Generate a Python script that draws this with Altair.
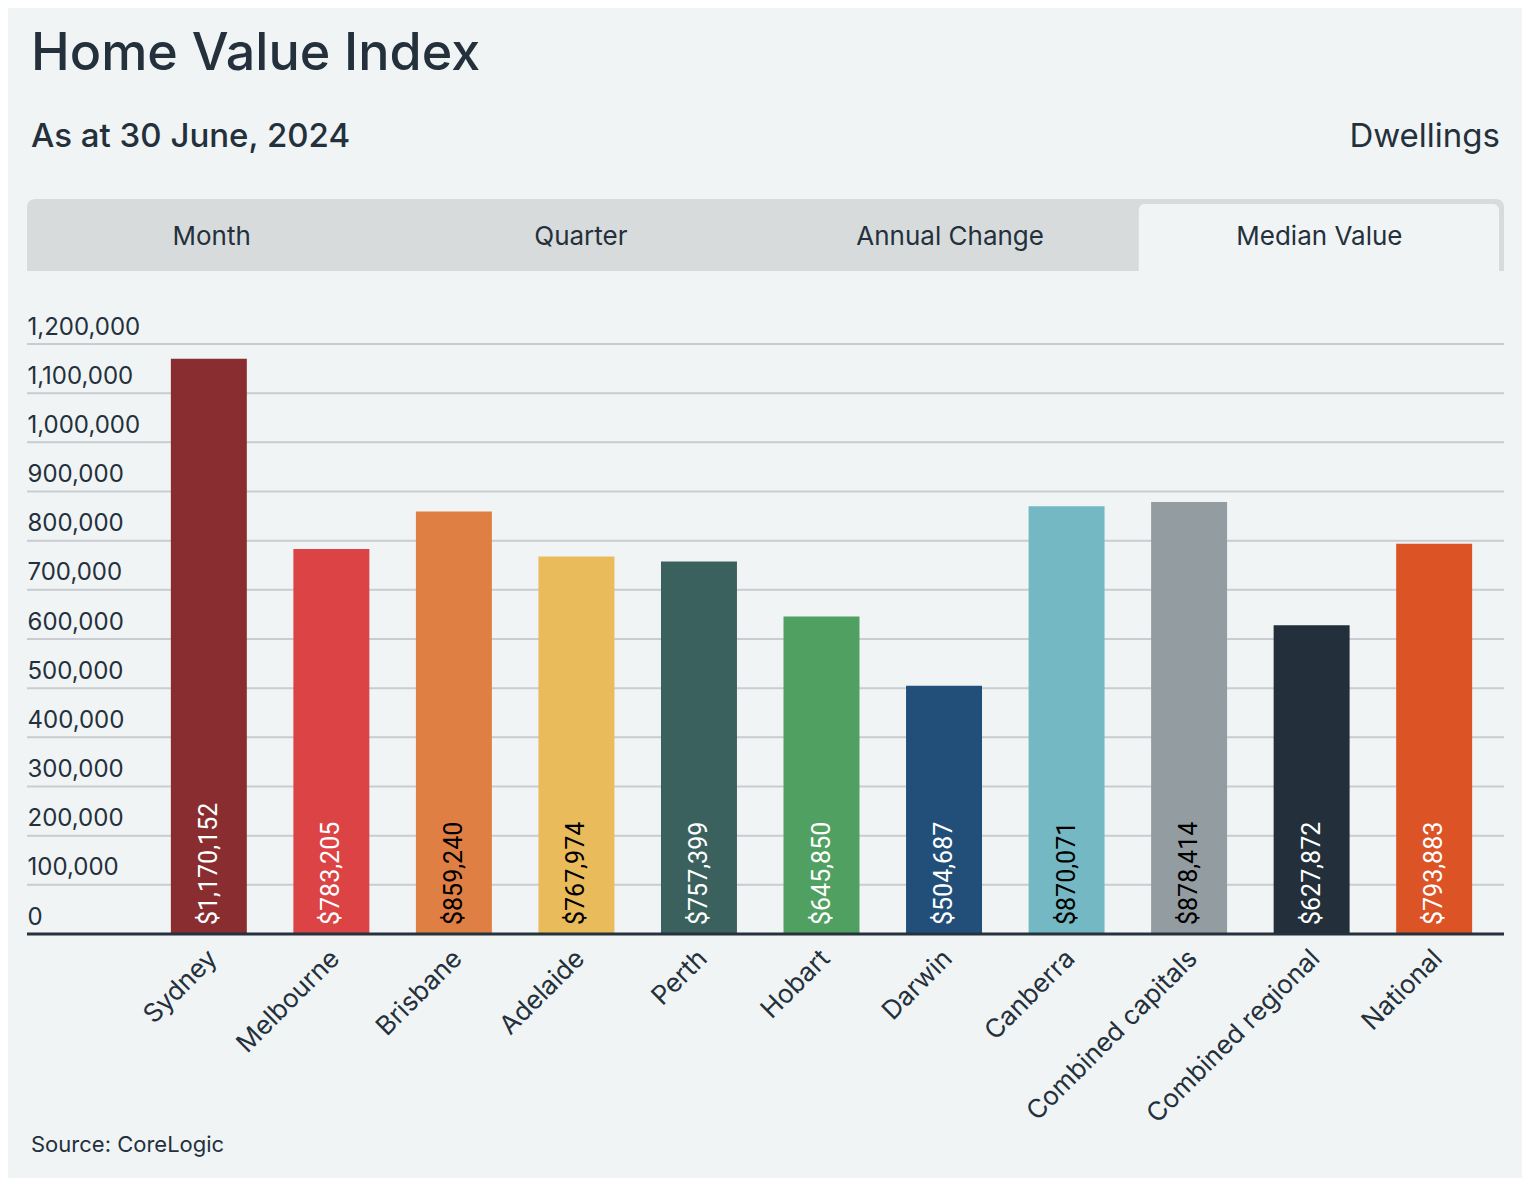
import altair as alt
import pandas as pd

# ---------------- data ----------------
regions = ["Sydney", "Melbourne", "Brisbane", "Adelaide", "Perth", "Hobart",
           "Darwin", "Canberra", "Combined capitals", "Combined regional", "National"]
median_values = [1170152, 783205, 859240, 767974, 757399, 645850,
                 504687, 870071, 878414, 627872, 793883]
bar_colors = ["#8a2d30", "#dc4345", "#e07f43", "#e9bb5a", "#3a615e", "#50a062",
              "#224f79", "#74b8c4", "#939ca0", "#232f3a", "#dc5325"]
dark_label_regions = ["Brisbane", "Adelaide", "Canberra", "Combined capitals"]
y_ticks = [0, 100000, 200000, 300000, 400000, 500000, 600000,
           700000, 800000, 900000, 1000000, 1100000, 1200000]
tabs = ["Month", "Quarter", "Annual Change", "Median Value"]
selected_tab = "Median Value"
title_text = "Home Value Index"
subtitle_text = "As at 30 June, 2024"
right_text = "Dwellings"
source_text = "Source: CoreLogic"

# ---------------- layout ----------------
W, H = 1365, 590
EXT = 112              # how far gridlines / tabs extend left of the plot
BG = "#f0f4f5"
INK = "#24303b"
FONT = "Inter"
LABEL_FONT = "Roboto"

df = pd.DataFrame({"region": regions, "value": median_values})
grid_df = pd.DataFrame({"tick": y_ticks})
tab_df = pd.DataFrame({"tab": tabs, "i": list(range(len(tabs)))})
frame_df = pd.DataFrame({"start": [0], "end": [len(tabs)]})

yscale = alt.Scale(domain=[0, 1200000], nice=False)
yaxis = alt.Axis(values=y_ticks, labelExpr="format(datum.value, ',')", grid=False,
                 ticks=False, domain=False,
                 labelAlign="left", labelPadding=EXT, labelBaseline="alphabetic",
                 labelOffset=-10, labelFontSize=24, labelColor=INK, labelFont=FONT,
                 title=None)
xscale = alt.Scale(domain=regions, paddingInner=0.38, paddingOuter=0.26)
xaxis = alt.Axis(labelAngle=-45, labelAlign="right", labelBaseline="middle",
                 labelFontSize=26, labelColor=INK, labelFont=FONT, labelPadding=20,
                 labelOffset=4, labelLimit=500, ticks=False, domain=False, title=None)

grid = alt.Chart(grid_df).mark_rule(color="#c9cdd1", strokeWidth=2).encode(
    y=alt.Y("tick:Q", scale=yscale, axis=yaxis),
    x=alt.value(-EXT), x2=alt.value(W),
)

bars = alt.Chart(df).mark_bar().encode(
    x=alt.X("region:N", sort=regions, scale=xscale, axis=xaxis),
    y=alt.Y("value:Q", scale=yscale, axis=yaxis),
    color=alt.Color("region:N", scale=alt.Scale(domain=regions, range=bar_colors), legend=None),
)

labels = alt.Chart(df).transform_calculate(base="0").mark_text(
    angle=270, align="left", baseline="middle", dx=9, font=LABEL_FONT, fontSize=25
).encode(
    x=alt.X("region:N", sort=regions, scale=xscale, axis=xaxis),
    y=alt.Y("base:Q", scale=yscale, axis=yaxis),
    text=alt.Text("value:Q", format="$,"),
    fill=alt.condition(
        "indexof(" + str(dark_label_regions) + ", datum.region) >= 0",
        alt.value("#000000"), alt.value("#ffffff")),
)

baseline = alt.Chart(grid_df).transform_filter("datum.tick == 0").mark_rule(
    color="#25313d", strokeWidth=3
).encode(
    y=alt.Y("tick:Q", scale=yscale, axis=yaxis),
    x=alt.value(-EXT), x2=alt.value(W),
)

main = alt.layer(grid, bars, labels, baseline)

# ---------------- tabs ----------------
tscale = alt.Scale(domain=[0, len(tabs)], range=[-EXT, W], nice=False, zero=False)
tab_frame = alt.Chart(frame_df).mark_rect(
    color="#d7dbdc", cornerRadiusTopLeft=8, cornerRadiusTopRight=8
).encode(
    x=alt.X("start:Q", scale=tscale, axis=None), x2="end:Q",
    y=alt.value(-145), y2=alt.value(-73),
)
tab_sel = alt.Chart(tab_df).transform_filter(
    alt.datum.tab == selected_tab
).transform_calculate(j="datum.i + 1").mark_rect(
    color=BG, cornerRadiusTopLeft=6, cornerRadiusTopRight=6, xOffset=4, x2Offset=-5
).encode(
    x=alt.X("i:Q", scale=tscale, axis=None), x2="j:Q",
    y=alt.value(-140), y2=alt.value(-73),
)
tab_text = alt.Chart(tab_df).transform_calculate(mid="datum.i + 0.5").mark_text(
    font=FONT, fontSize=26, color=INK, baseline="middle", align="center"
).encode(
    x=alt.X("mid:Q", scale=tscale, axis=None),
    y=alt.value(-107),
    text="tab:N",
)
tabs_layer = alt.layer(tab_frame, tab_sel, tab_text)

# ---------------- header / footer texts ----------------
one = alt.Data(values=[{}])
subtitle = alt.Chart(one).mark_text(
    text=subtitle_text, font=FONT, fontSize=33, fontWeight=500, color=INK,
    align="left", baseline="alphabetic"
).encode(x=alt.value(-108), y=alt.value(-197))
right = alt.Chart(one).mark_text(
    text=right_text, font=FONT, fontSize=33, color=INK,
    align="right", baseline="alphabetic"
).encode(x=alt.value(W - 4), y=alt.value(-197))
source = alt.Chart(one).mark_text(
    text=source_text, font=FONT, fontSize=22, color=INK,
    align="left", baseline="middle"
).encode(x=alt.value(-108), y=alt.value(801))

chart = alt.layer(main, tabs_layer, subtitle, right, source).resolve_scale(
    x="independent"
).properties(
    width=W, height=H,
    autosize=alt.AutoSizeParams(type="none"),
    padding={"left": 131, "top": 336, "right": 18, "bottom": 244},
    title=alt.TitleParams(
        text=title_text, anchor="start", frame="group", dx=-108, offset=40,
        font=FONT, fontSize=52, fontWeight=500, color=INK,
    ),
    background=BG,
).configure_view(stroke=None)

chart.save("out.html", embed_options={"renderer": "svg", "actions": False})
